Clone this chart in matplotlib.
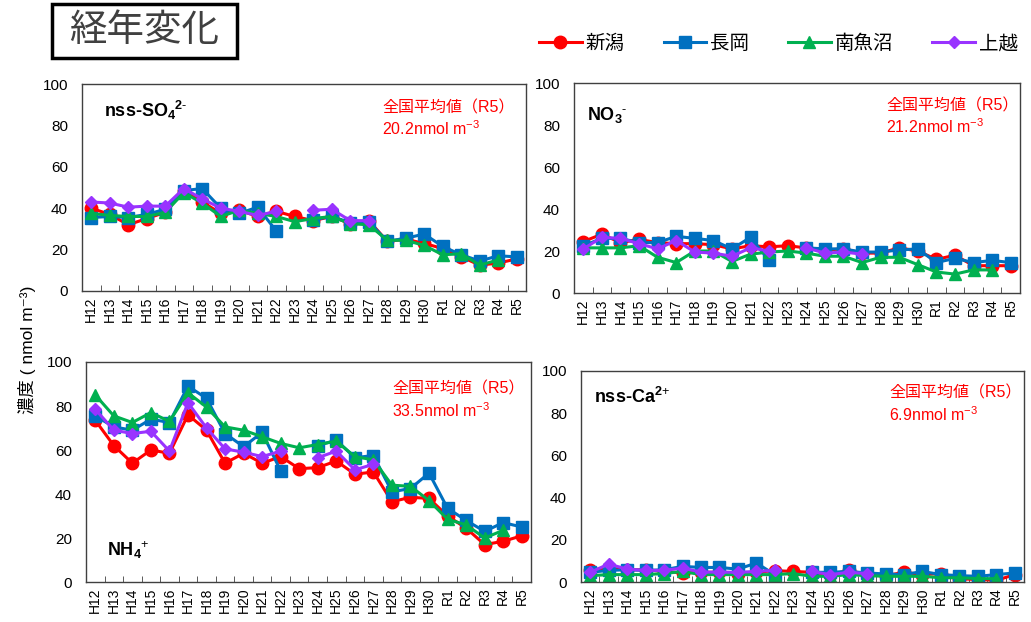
import numpy as np
import matplotlib
matplotlib.use('Agg')
import matplotlib.pyplot as plt
from matplotlib.patches import Rectangle

plt.rcParams['font.family'] = ['Liberation Sans', 'Noto Sans CJK JP', 'DejaVu Sans']
plt.rcParams['mathtext.fontset'] = 'custom'
plt.rcParams['mathtext.rm'] = 'Liberation Sans'
plt.rcParams['mathtext.bf'] = 'Liberation Sans:bold'

nan = np.nan

# years (H12 - R5)
years = ['H12', 'H13', 'H14', 'H15', 'H16', 'H17', 'H18', 'H19', 'H20', 'H21', 'H22', 'H23',
         'H24', 'H25', 'H26', 'H27', 'H28', 'H29', 'H30', 'R1', 'R2', 'R3', 'R4', 'R5']

sites = ['新潟', '長岡', '南魚沼', '上越']

# nss-SO4 2-
so4_niigata = [40, 37, 32, 35, 38, 48.5, 43, 37.5, 39, 36, 38.5, 36, 34, 36, 32.5, 34, 24, 25, 23, 20.5, 16.5, 12.5, 13.5, 15.5]
so4_nagaoka = [35.5, 36, 35.5, 37, 39.5, 48.5, 49.5, 40, 37.5, 40.5, 29, nan, 34.5, 36, 33, 33.5, 24, 25.5, 27.5, 21.5, 17.5, 14.5, 17, 16.5]
so4_minamiuonuma = [37.5, 36.5, 36, 36, 38, 47.5, 42.5, 36, 39, 37.5, 36, 33.5, 35, 36, 32.5, 32, 24.5, 24.5, 22, 17.5, 18, 12.5, 15, nan]
so4_joetsu = [43, 42.5, 40.5, 41, 41, 49.5, 44.5, 40, 38.5, 36.5, 38.5, nan, 39, 39.5, 34, 34, nan, nan, nan, nan, nan, nan, nan, nan]

# NO3 -
no3_niigata = [24.5, 28, 24, 25.5, 24, 23.5, 23.5, 23, 21, 22.5, 22, 22.5, 21.5, 20.5, 21, 19, 19, 21.5, 20, 16, 18, 13, 13, 13]
no3_nagaoka = [22.5, 26, 26, 24, 24, 27, 26, 25, 21, 26.5, 15.5, nan, 21.5, 21, 21, 19.5, 19.5, 20.5, 21, 14.5, 16.5, 14.5, 15.5, 14.5]
no3_minamiuonuma = [21.5, 21.5, 21.5, 22.5, 17, 14.5, 20, 20, 15, 18.5, 19.5, 20, 19, 17.5, 17.5, 14.5, 17, 17, 13.5, 10, 9, 11, 11, nan]
no3_joetsu = [21, 26.5, 26, 23.5, 21, 25, 19.5, 19, 17.5, 21.5, 20, nan, 21.5, 19, 19.5, 18.5, nan, nan, nan, nan, nan, nan, nan, nan]

# NH4 +
nh4_niigata = [73.5, 62, 54, 60, 58.5, 76, 69, 54, 58.5, 54, 57, 51.5, 52, 55, 49, 50, 36.5, 38.5, 38, 30, 24.5, 17, 18.5, 21]
nh4_nagaoka = [75.5, 70.5, 69, 74, 72.5, 89, 83.5, 67.5, 61.5, 68, 50.5, nan, 62, 64.5, 56.5, 57.5, 41, 42.5, 49.5, 33.5, 28, 23, 27, 25]
nh4_minamiuonuma = [85, 75.5, 72.5, 77, 73, 86, 79.5, 70.5, 69, 66, 63, 61, 62.5, 64, 57, 55.5, 44, 43.5, 37, 28.5, 26, 20, 23.5, nan]
nh4_joetsu = [78.5, 69, 67.5, 68.5, 59.5, 81.5, 70, 60.5, 59, 57, 59.5, nan, 56.5, 59.5, 51, 53.5, nan, nan, nan, nan, nan, nan, nan, nan]

# nss-Ca 2+
ca_niigata = [5.8, 6.5, 5.8, 5.8, 5, 4.3, 4.6, 4.6, 4, 4.6, 5.4, 5, 4.6, 3.5, 5.5, 3.5, 3, 4.6, 3.5, 4, 1.5, 1.2, 0.8, 3.5]
ca_nagaoka = [4.6, 5.5, 5.8, 5.5, 5.8, 7.4, 6.9, 6.9, 6.1, 9, 3.5, nan, 4.6, 4.6, 5, 4.3, 3.8, 3.5, 5, 3.5, 3, 2.7, 3.5, 4.3]
ca_minamiuonuma = [3, 3.5, 3.5, 3.5, 4, 5, 3.5, 3.5, 3.5, 3.5, 3.5, 4, 2.7, 2.7, 3.5, 3, 2.7, 2.7, 2.7, 2, 2, 1.6, 1.6, nan]
ca_joetsu = [4.6, 8.5, 6.1, 5.5, 5.5, 6.6, 4.7, 4.7, 4.6, 5, 5.5, nan, 5, 3.5, 4.6, 4, nan, nan, nan, nan, nan, nan, nan, nan]

# panel labels and national averages
ion_labels = [r'nss-SO$_{\mathbf{4}}$$^{\mathbf{2}\text{-}}$', r'NO$_{\mathbf{3}}$$^{\text{-}}$',
              r'NH$_{\mathbf{4}}$$^{\text{+}}$', r'nss-Ca$^{\mathbf{2}\text{+}}$']
nat_avg = ['20.2', '21.2', '33.5', '6.9']

colors = ['#FF0000', '#0070C0', '#00B050', '#9933FF']
markers = ['o', 's', '^', 'D']
msizes = [9, 8, 9, 6.5]

panels = [
    [so4_niigata, so4_nagaoka, so4_minamiuonuma, so4_joetsu],
    [no3_niigata, no3_nagaoka, no3_minamiuonuma, no3_joetsu],
    [nh4_niigata, nh4_nagaoka, nh4_minamiuonuma, nh4_joetsu],
    [ca_niigata, ca_nagaoka, ca_minamiuonuma, ca_joetsu],
]

W, H = 1031, 622
rects = [
    (82 / W, 1 - 291 / H, 444 / W, 207 / H),
    (574 / W, 1 - 293 / H, 446 / W, 210 / H),
    (86 / W, 1 - 582 / H, 445 / W, 220 / H),
    (581 / W, 1 - 582 / H, 443 / W, 211 / H),
]
label_pos = [(0.05, 0.87), (0.03, 0.85), (0.047, 0.145), (0.03, 0.877)]
avg_pos = [(0.676, 0.885), (0.70, 0.89), (0.688, 0.88), (0.695, 0.895)]

fig = plt.figure(figsize=(W / 100, H / 100), dpi=100)
x = np.arange(len(years))

for k in range(4):
    ax = fig.add_axes(rects[k])
    for s in range(4):
        ax.plot(x, panels[k][s], color=colors[s], marker=markers[s], ms=msizes[s],
                lw=2.2, label=sites[s])
    ax.set_xlim(-0.5, len(years) - 0.5)
    ax.set_ylim(0, 100)
    ax.set_yticks(np.arange(0, 101, 20))
    ax.set_xticks(x)
    ax.set_xticklabels(years, rotation=90, fontsize=10)
    ax.set_xticks(np.arange(0.5, len(years) - 1, 1), minor=True)
    ax.tick_params(axis='x', which='major', length=0, pad=4)
    ax.tick_params(axis='x', which='minor', direction='in', length=4, color='#404040')
    ax.tick_params(axis='y', length=0, labelsize=11, pad=10)
    for sp in ax.spines.values():
        sp.set_color('#404040')
        sp.set_linewidth(1.0)
    ax.text(label_pos[k][0], label_pos[k][1], ion_labels[k], transform=ax.transAxes,
            fontsize=13, fontweight='bold', va='center', ha='left')
    ax.text(avg_pos[k][0], avg_pos[k][1], '全国平均値（R5）', transform=ax.transAxes,
            fontsize=11.5, color='#FF0000', va='center', ha='left')
    ax.text(avg_pos[k][0], avg_pos[k][1] - 0.1, nat_avg[k] + r'nmol m$^{-3}$', transform=ax.transAxes,
            fontsize=11.5, color='#FF0000', va='center', ha='left')
    if k == 0:
        handles, labs = ax.get_legend_handles_labels()

fig.legend(handles, labs, loc='center', bbox_to_anchor=(0.755, 1 - 44 / H), ncol=4,
           frameon=False, fontsize=14, handlelength=2.2, columnspacing=2.0, handletextpad=0.2)

# title box
fig.patches.append(Rectangle((52 / W, 1 - 58 / H), 185 / W, 54 / H, transform=fig.transFigure,
                             fill=False, lw=2.5, ec='black'))
fig.text(144.5 / W, 1 - 31 / H, '経年変化', fontsize=27, color='#404040', ha='center', va='center')

fig.text(27 / W, 1 - 350 / H, '濃度 ( nmol m⁻³)', rotation=90, fontsize=12.5,
         ha='center', va='center')

fig.savefig('out.png', dpi=100)
